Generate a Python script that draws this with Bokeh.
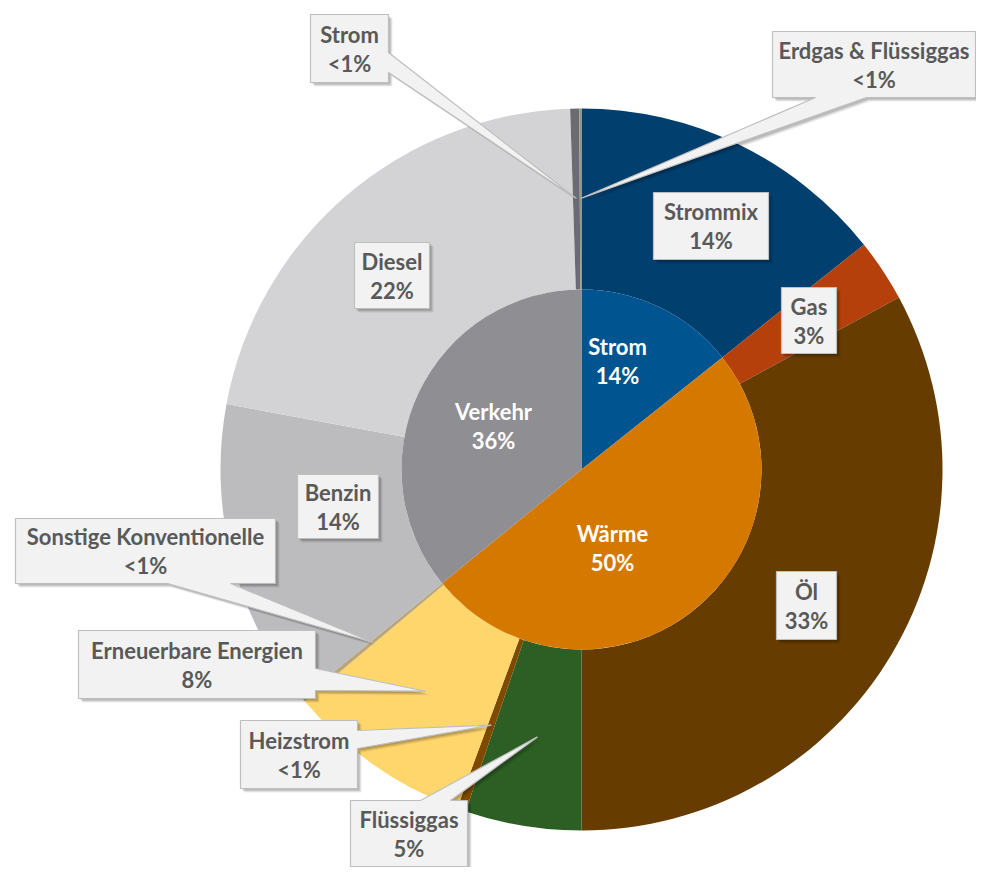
import numpy as np
from bokeh.plotting import figure
from bokeh.models import ColumnDataSource, Range1d
from bokeh.core.properties import value
from bokeh.embed import file_html
from bokeh.resources import INLINE

# ---------------- data ----------------
inner_names = ["Strom", "Wärme", "Verkehr"]
inner_values = [14.3, 49.8, 35.9]
inner_labels = ["14%", "50%", "36%"]
inner_colors = ["#00548F", "#D57800", "#8F8E93"]

outer_names = ["Strommix", "Gas", "Öl", "Flüssiggas", "Heizstrom",
               "Erneuerbare Energien", "Sonstige Konventionelle",
               "Benzin", "Diesel", "Strom", "Erdgas & Flüssiggas"]
outer_parent = ["Strom", "Wärme", "Wärme", "Wärme", "Wärme", "Wärme", "Wärme",
                "Verkehr", "Verkehr", "Verkehr", "Verkehr"]
outer_values = [14.3, 2.8, 32.9, 5.2, 0.4, 8.3, 0.2, 13.8, 21.6, 0.4, 0.1]
outer_labels = ["14%", "3%", "33%", "5%", "<1%", "8%", "<1%", "14%", "22%", "<1%", "<1%"]
outer_colors = ["#003F6E", "#B5400B", "#663C00", "#2D5F24", "#7F4A00",
                "#FED66C", "#B9A77A", "#BCBCBE", "#D3D3D5", "#6B6B70", "#8C9A86"]

# ---------------- layout (reference pixel frame, y down) ----------------
REF_H = 883
CX, CY = 581, 469
R_IN, R_OUT = 180, 361
R_TIP = 271

def Y(py):
    return REF_H - py

def angles(vals):
    vals = np.asarray(vals, dtype=float)
    cum = np.concatenate([[0], np.cumsum(vals)]) / vals.sum() * 2 * np.pi
    s, e = cum[:-1], cum[1:]
    return np.pi / 2 - e, np.pi / 2 - s, (s + e) / 2

i_start, i_end, i_mid = angles(inner_values)
o_start, o_end, o_mid = angles(outer_values)

p = figure(width=976, height=867, output_backend="svg", toolbar_location=None,
           x_range=Range1d(0, 976), y_range=Range1d(REF_H - 867, REF_H),
           min_border=0, outline_line_color=None, background_fill_color="white")
p.axis.visible = False
p.grid.visible = False

outer_src = ColumnDataSource(dict(name=outer_names, start=o_start, end=o_end,
                                  color=outer_colors))
p.annular_wedge(x=CX, y=Y(CY), inner_radius=R_IN, outer_radius=R_OUT,
                start_angle="start", end_angle="end", fill_color="color",
                line_color=None, source=outer_src)

inner_src = ColumnDataSource(dict(name=inner_names, start=i_start, end=i_end,
                                  color=inner_colors))
p.wedge(x=CX, y=Y(CY), radius=R_IN, start_angle="start", end_angle="end",
        fill_color="color", line_color=None, source=inner_src)

FONT = value("Lato")
FS = "22px"
LINE = 14.5

# inner labels (white)
inner_pos = {"Strom": (617, 360), "Wärme": (612, 547), "Verkehr": (493, 425)}
tx, ty, tt = [], [], []
for n, lab in zip(inner_names, inner_labels):
    x, y = inner_pos[n]
    tx += [x, x]; ty += [Y(y - LINE), Y(y + LINE)]; tt += [n, lab]
p.text(x=tx, y=ty, text=tt, text_font=FONT, text_font_style="bold",
       text_font_size=FS, text_color="white", text_align="center",
       text_baseline="middle")

# label boxes: name -> (x0, y0, x1, y1), callout edge, base coords
boxes = {
    "Strommix": ((653, 192, 768, 259), None, None),
    "Gas": ((781, 287, 836, 353), None, None),
    "Öl": ((776, 571, 836, 639), None, None),
    "Diesel": ((354, 242, 429, 308), None, None),
    "Benzin": ((297, 474, 378, 538), None, None),
    "Strom": ((310, 14, 388, 82), "right", (52, 72)),
    "Erdgas & Flüssiggas": ((772, 31, 975, 97), "bottom", (815, 866)),
    "Sonstige Konventionelle": ((15, 518, 275, 583), "bottom", (167, 230)),
    "Erneuerbare Energien": ((78, 630, 315, 698), "right", (668, 690)),
    "Heizstrom": ((240, 720, 357, 788), "right", (730, 748)),
    "Flüssiggas": ((350, 800, 467, 866), "top", (420, 450)),
}

polys_x, polys_y = [], []
lx, ly, lt = [], [], []
for i, n in enumerate(outer_names):
    (x0, y0, x1, y1), edge, base = boxes[n]
    pts = []
    tip = (CX + R_TIP * np.sin(o_mid[i]), CY - R_TIP * np.cos(o_mid[i]))
    pts.append((x0, y0))
    if edge == "top":
        pts += [(min(base), y0), tip, (max(base), y0)]
    pts.append((x1, y0))
    if edge == "right":
        pts += [(x1, min(base)), tip, (x1, max(base))]
    pts.append((x1, y1))
    if edge == "bottom":
        pts += [(max(base), y1), tip, (min(base), y1)]
    pts.append((x0, y1))
    polys_x.append([q[0] for q in pts])
    polys_y.append([Y(q[1]) for q in pts])
    cx, cy = (x0 + x1) / 2, (y0 + y1) / 2
    lx += [cx, cx]; ly += [Y(cy - LINE), Y(cy + LINE)]; lt += [n, outer_labels[i]]

for off, alpha in [(4, 0.07), (3, 0.10), (2, 0.12)]:
    p.patches(xs=[[v + off for v in xs] for xs in polys_x],
              ys=[[v - off for v in ys] for ys in polys_y],
              fill_color="black", fill_alpha=alpha, line_color=None)
p.patches(xs=polys_x, ys=polys_y, fill_color="#F2F2F2", line_color="#BFBFBF",
          line_width=1.2)

p.text(x=lx, y=ly, text=lt, text_font=FONT, text_font_style="bold",
       text_font_size=FS, text_color="#595959", text_align="center",
       text_baseline="middle")

open("out.html", "w").write(file_html(p, INLINE))
